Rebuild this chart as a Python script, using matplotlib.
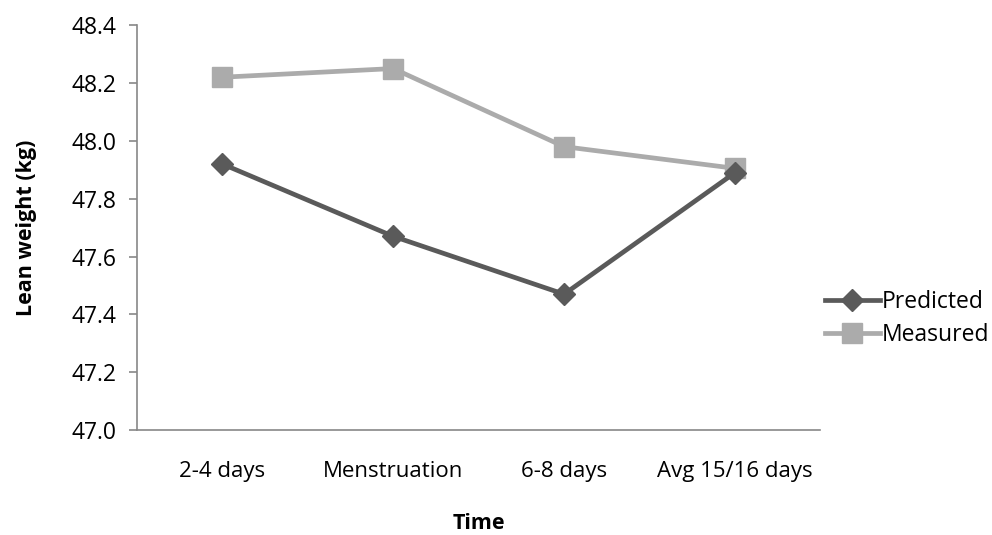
import matplotlib.pyplot as plt
from matplotlib.ticker import FormatStrFormatter

plt.rcParams['font.family'] = ['Open Sans', 'DejaVu Sans']

# data
categories = ['2-4 days', 'Menstruation', '6-8 days', 'Avg 15/16 days']
predicted = [47.92, 47.67, 47.47, 47.89]
measured = [48.22, 48.25, 47.98, 47.905]
y_ticks = [47.0, 47.2, 47.4, 47.6, 47.8, 48.0, 48.2, 48.4]

fig = plt.figure(figsize=(9.92, 5.35), dpi=100)
ax = fig.add_axes([0.138, 0.196, 0.689, 0.757])

x = range(len(categories))
ax.plot(x, predicted, color='#5a5a5a', lw=3.4, marker='D', ms=11.5,
        label='Predicted', zorder=3)
ax.plot(x, measured, color='#ababab', lw=3.4, marker='s', ms=14,
        label='Measured', zorder=2)

ax.set_xlim(-0.5, len(categories) - 0.5)
ax.set_ylim(47.0, 48.4)
ax.set_yticks(y_ticks)
ax.yaxis.set_major_formatter(FormatStrFormatter('%.1f'))
ax.set_xticks(list(x))
ax.set_xticklabels(categories)

for s in ['top', 'right']:
    ax.spines[s].set_visible(False)
for s in ['left', 'bottom']:
    ax.spines[s].set_color('#888888')
    ax.spines[s].set_linewidth(1.2)
ax.tick_params(axis='y', length=6, color='#888888', width=1.2, labelsize=16.5, pad=9)
ax.tick_params(axis='x', length=0, labelsize=16, pad=22)

ax.set_ylabel('Lean weight (kg)', fontsize=15.5, fontweight='bold')
ax.yaxis.set_label_coords(-0.146, 0.5)
ax.set_xlabel('Time', fontsize=15.5, fontweight='bold')
ax.xaxis.set_label_coords(0.5, -0.205)

fig.legend(loc='center left', bbox_to_anchor=(0.822, 0.404), frameon=False,
           fontsize=16.5, handlelength=2.4, handletextpad=0.1, labelspacing=0.4,
           borderaxespad=0)

fig.savefig('out.png', dpi=100)
